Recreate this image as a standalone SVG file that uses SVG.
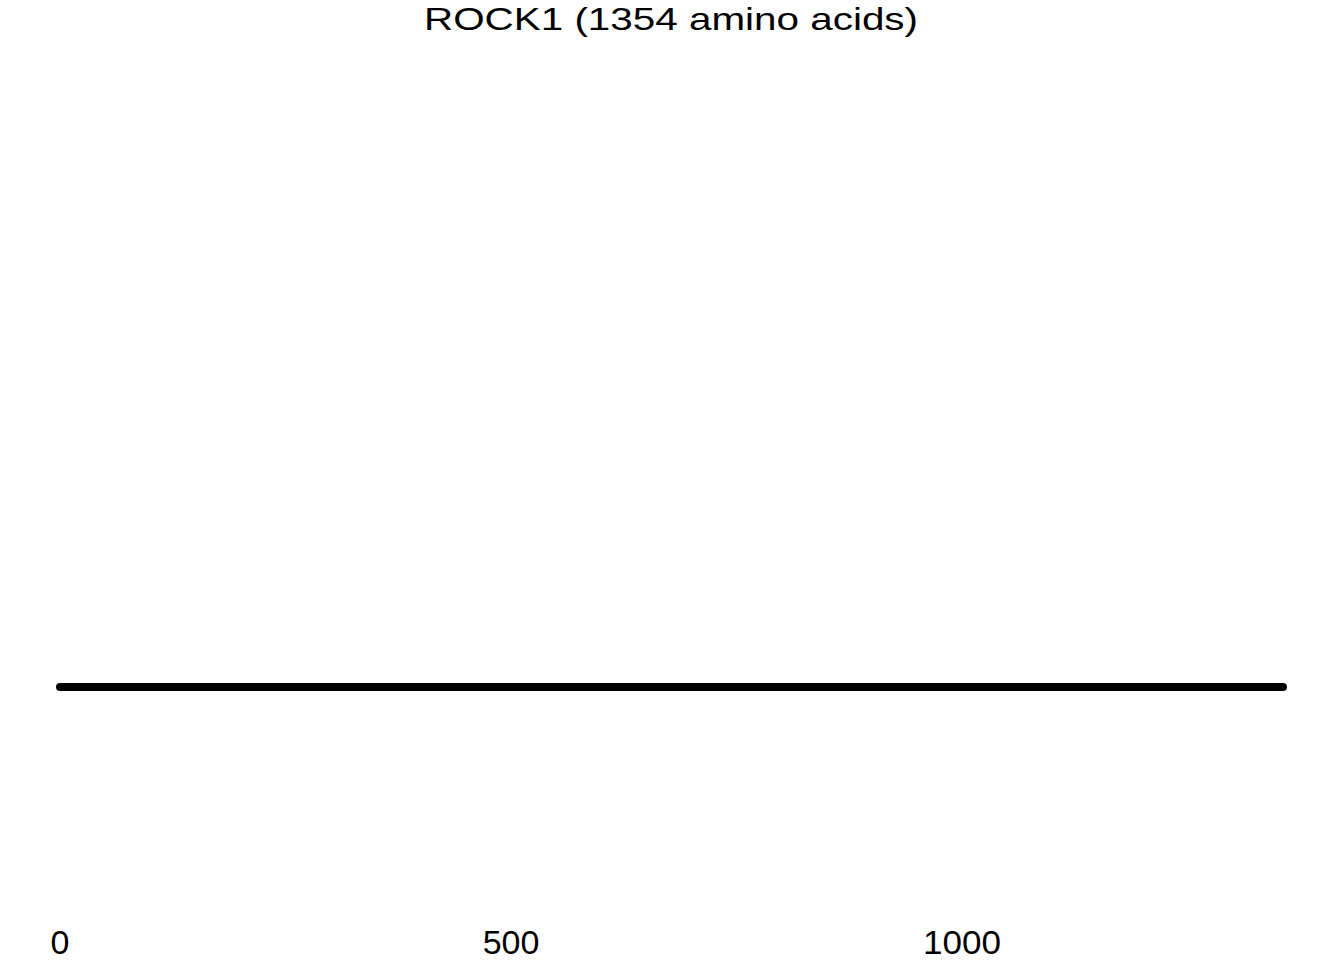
<svg xmlns="http://www.w3.org/2000/svg" width="1344" height="960" viewBox="0 0 1344 960">
<style>
.t{font-family:"Liberation Sans",Arial,sans-serif;fill:#000}
.title{font-size:32px}
.tick{font-size:34px}
</style>
<rect width="1344" height="960" fill="#fff"/>
<g id="title"><text class="t title" x="671" y="30" text-anchor="middle" textLength="494" lengthAdjust="spacingAndGlyphs">ROCK1 (1354 amino acids)</text></g>
<g id="connectors"><line id="backbone" x1="60" y1="687" x2="1283" y2="687" stroke="#000" stroke-width="8" stroke-linecap="round"/></g>
<g id="axis">
<text class="t tick" x="60" y="954" text-anchor="middle">0</text>
<text class="t tick" x="511" y="954" text-anchor="middle">500</text>
<text class="t tick" x="962" y="954" text-anchor="middle" textLength="78" lengthAdjust="spacingAndGlyphs">1000</text>
</g>
</svg>
